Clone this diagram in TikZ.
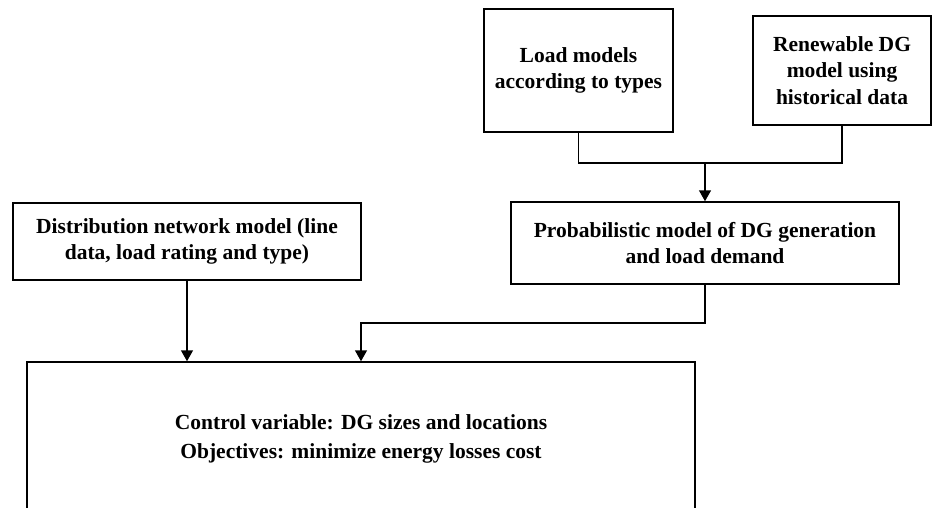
\documentclass[tikz,border=0pt]{standalone}
\usepackage{fontspec}
\setmainfont{Liberation Serif}
\usetikzlibrary{arrows.meta,positioning}

\begin{document}
\begin{tikzpicture}[x=1pt,y=-1pt,>={Triangle[width=12pt,length=11pt]},
    every node/.style={align=center,font=\fontsize{21.5}{26.5}\selectfont\bfseries},
    blockbox/.style={draw,line width=1.5pt,inner sep=0pt},
    link/.style={line width=1.5pt}]
  \clip (0,0) rectangle (932,508);
  \node[blockbox,minimum width=189pt,minimum height=123pt] (load) at (578.5,70.5)
    {Load models\\according to types};
  \node[blockbox,minimum width=178pt,minimum height=109pt] (renew) at (842,70.5)
    {Renewable DG\\model using\\historical data};
  \node[blockbox,minimum width=388pt,minimum height=82pt] (prob) at (705,243)
    {Probabilistic model of DG generation\\and load demand};
  \node[blockbox,minimum width=348pt,minimum height=77pt] (dist) at (187,241.5)
    {Distribution network model (line\\data, load rating and type)};
  \node[blockbox,minimum width=668pt,minimum height=154pt,
    font=\fontsize{21.5}{29}\selectfont\bfseries] (ctrl) at (361,439)
    {Control variable: DG sizes and locations\\Objectives: minimize energy losses cost};
  \coordinate (join) at (705,163);
  \coordinate (bend) at (361,323);
  \draw[link] (load.south) |- (join) -| (renew.south);
  \draw[link,->] (join) -- (prob.north);
  \draw[link,->] (prob.south) |- (bend) -- (ctrl.north);
  \draw[link,->] (dist.south) -- (dist.south |- ctrl.north);
\end{tikzpicture}
\end{document}
